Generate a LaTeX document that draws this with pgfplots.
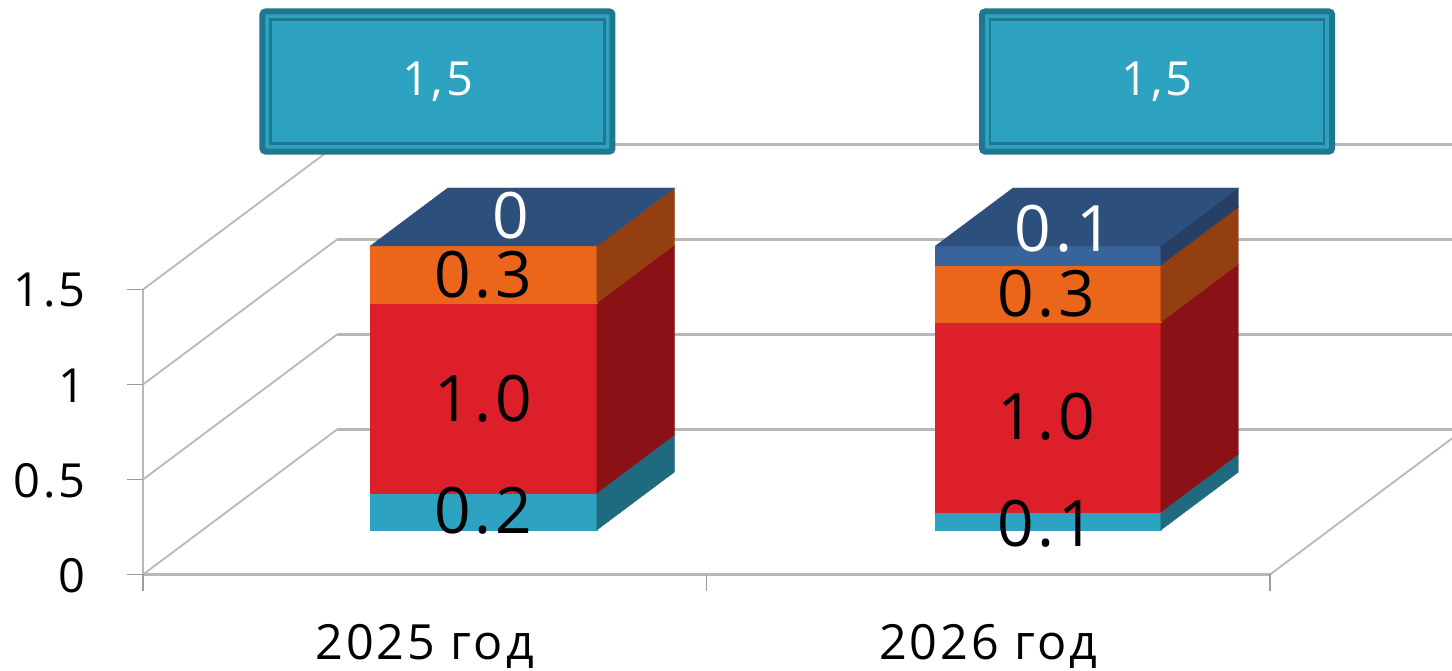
\documentclass[border=0pt]{standalone}
\usepackage{fontspec}
\setmainfont{Open Sans}
\newfontfamily\spaced[LetterSpace=6]{Open Sans}
\usepackage{pgfplots}
\pgfplotsset{compat=1.18}

\definecolor{gridc}{HTML}{B8B8B8}
\definecolor{tickc}{HTML}{9C9C9C}
\definecolor{tealf}{HTML}{2EA3C1}
\definecolor{teals}{HTML}{1F6A7E}
\definecolor{tealb}{HTML}{1F788F}
\definecolor{redf}{HTML}{DC1F28}
\definecolor{reds}{HTML}{8A1217}
\definecolor{orf}{HTML}{EB651A}
\definecolor{ors}{HTML}{933F10}
\definecolor{bluef}{HTML}{396499}
\definecolor{blues}{HTML}{273F65}
\definecolor{bluet}{HTML}{2C4F7C}

% one stacked block: x0 x1 zbottom ztop front side
\newcommand{\block}[6]{%
  \addplot3[fill=#5,draw=#5,line width=0.4pt] coordinates {(#1,0.3,#3) (#2,0.3,#3) (#2,0.3,#4) (#1,0.3,#4) (#1,0.3,#3)};
  \addplot3[fill=#6,draw=#6,line width=0.4pt] coordinates {(#2,0.3,#3) (#2,0.7,#3) (#2,0.7,#4) (#2,0.3,#4) (#2,0.3,#3)};
}
\newcommand{\roof}[3]{%
  \addplot3[fill=bluet,draw=bluet,line width=0.4pt] coordinates {(#1,0.3,#3) (#2,0.3,#3) (#2,0.7,#3) (#1,0.7,#3) (#1,0.3,#3)};
}
\newcommand{\wall}[1]{%
  \addplot3[gridc,line width=1.8pt] coordinates {(0,0,#1) (0,1,#1)};
  \addplot3[gridc,line width=2.6pt] coordinates {(0,1,#1) (1.979,1,#1)};
  \addplot3[tickc,line width=1.5pt] coordinates {(-0.0284,0,#1) (0,0,#1)};
}

\begin{document}
\begin{tikzpicture}
\path[use as bounding box] (0,0) rectangle (1452pt,671pt);
\begin{axis}[
    at={(143pt,96.5pt)},
    anchor=origin,
    x={(563.5pt,0pt)},
    y={(194pt,145pt)},
    z={(0pt,190pt)},
    xmin=0,xmax=2,ymin=0,ymax=1,zmin=0,zmax=1.5,
    clip=false,
    axis lines=left,
    axis line style={-,gridc,line width=2pt},
    y axis line style={draw=none},
    xtick={0.5,1.5},
    xticklabels={2025 год,2026 год},
    ytick=\empty,
    ztick={0,0.5,1,1.5},
    zticklabels={0,0.5,1,1.5},
    major tick length=0pt,
    xticklabel style={font=\fontsize{48.5}{48.5}\spaced,anchor=north,yshift=-46pt},
    zticklabel style={font=\fontsize{47}{47}\spaced,anchor=east,xshift=-54pt,yshift=-1pt},
  ]
  % walls and floor
  \wall{0} \wall{0.5} \wall{1} \wall{1.5}
  \addplot3[gridc,line width=1.8pt] coordinates {(2,0,0) (2,0.938,0)};
  \addplot3[gridc,line width=3pt] coordinates {(0,0,0) (2,0,0)};
  \addplot3[tickc,line width=1.5pt] coordinates {(0,0,-0.085) (0,0,0)};
  \addplot3[tickc,line width=1.5pt] coordinates {(1,0,-0.085) (1,0,0)};
  \addplot3[tickc,line width=1.5pt] coordinates {(2,0,-0.085) (2,0,0)};
  % 2025
  \block{0.3}{0.702}{0.005}{0.2}{tealf}{teals}
  \block{0.3}{0.702}{0.2}{1.2}{redf}{reds}
  \block{0.3}{0.702}{1.2}{1.5}{orf}{ors}
  \roof{0.3}{0.702}{1.5}
  % 2026
  \block{1.303}{1.703}{0.005}{0.1}{tealf}{teals}
  \block{1.303}{1.703}{0.1}{1.1}{redf}{reds}
  \block{1.303}{1.703}{1.1}{1.4}{orf}{ors}
  \block{1.303}{1.703}{1.4}{1.5}{bluef}{blues}
  \roof{1.303}{1.703}{1.5}
  % value labels
  \tikzset{val/.style={font=\fontsize{64}{64}\spaced,inner sep=0pt}}
  \node[val] at (axis cs:0.5,0.3,0.105) {0.2};
  \node[val] at (axis cs:0.5,0.3,0.695) {1.0};
  \node[val] at (axis cs:0.5,0.3,1.35) {0.3};
  \node[val,white] at (axis cs:0.549,0.3,1.66) {0};
  \node[val] at (axis cs:1.5,0.3,0.04) {0.1};
  \node[val] at (axis cs:1.5,0.3,0.60) {1.0};
  \node[val] at (axis cs:1.5,0.3,1.25) {0.3};
  \node[val,white] at (axis cs:1.531,0.3,1.59) {0.1};
  % totals
  \tikzset{tot/.style={draw=tealb,fill=tealf,line width=6pt,rounded corners=3pt,
      minimum width=350pt,minimum height=140pt,inner sep=0pt,text=white,
      font=\fontsize{47}{47}\spaced}}
  \tikzset{totin/.style={draw=tealb,line width=2.5pt,minimum width=334pt,minimum height=124pt}}
  \node[tot] at (axis cs:0.5226,0,2.5947) {1,5};
  \node[totin] at (axis cs:0.5226,0,2.5947) {};
  \node[tot] at (axis cs:1.7995,0,2.5947) {1,5};
  \node[totin] at (axis cs:1.7995,0,2.5947) {};
\end{axis}
\end{tikzpicture}
\end{document}
